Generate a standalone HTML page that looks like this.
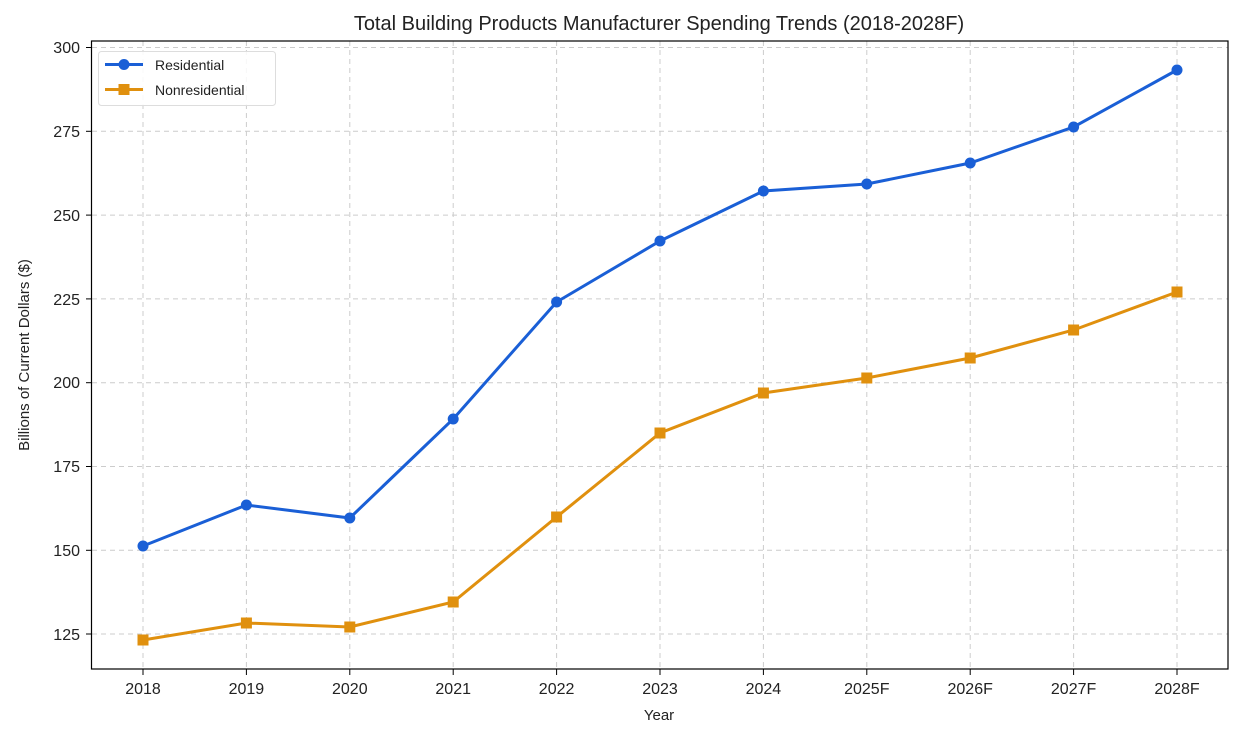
<!DOCTYPE html>
<html><head><meta charset="utf-8"><style>
body{margin:0;background:#fff;}
svg text{font-family:"Liberation Sans",sans-serif;fill:#222;}
</style></head><body>
<svg width="1246" height="727" xmlns="http://www.w3.org/2000/svg">
<rect width="1246" height="727" fill="#fff"/>
<text x="659" y="30" font-size="20" text-anchor="middle">Total Building Products Manufacturer Spending Trends (2018-2028F)</text>
<g stroke="#ccc" stroke-width="1" stroke-dasharray="5,4">
<line x1="92" x2="1228" y1="47.5" y2="47.5"/><line x1="92" x2="1228" y1="131.3" y2="131.3"/>
<line x1="92" x2="1228" y1="215.1" y2="215.1"/><line x1="92" x2="1228" y1="298.9" y2="298.9"/>
<line x1="92" x2="1228" y1="382.7" y2="382.7"/><line x1="92" x2="1228" y1="466.5" y2="466.5"/>
<line x1="92" x2="1228" y1="550.3" y2="550.3"/><line x1="92" x2="1228" y1="634" y2="634"/>
<line x1="143" x2="143" y1="41" y2="669"/><line x1="246.4" x2="246.4" y1="41" y2="669"/>
<line x1="349.8" x2="349.8" y1="41" y2="669"/><line x1="453.2" x2="453.2" y1="41" y2="669"/>
<line x1="556.6" x2="556.6" y1="41" y2="669"/><line x1="660" x2="660" y1="41" y2="669"/>
<line x1="763.4" x2="763.4" y1="41" y2="669"/><line x1="866.8" x2="866.8" y1="41" y2="669"/>
<line x1="970.2" x2="970.2" y1="41" y2="669"/><line x1="1073.6" x2="1073.6" y1="41" y2="669"/>
<line x1="1177" x2="1177" y1="41" y2="669"/>
</g>
<rect x="91.5" y="41" width="1136.5" height="628" fill="none" stroke="#000" stroke-width="1.2"/>
<g stroke="#000" stroke-width="1">
<line x1="86" x2="91.5" y1="47.5" y2="47.5"/><line x1="86" x2="91.5" y1="131.3" y2="131.3"/>
<line x1="86" x2="91.5" y1="215.1" y2="215.1"/><line x1="86" x2="91.5" y1="298.9" y2="298.9"/>
<line x1="86" x2="91.5" y1="382.7" y2="382.7"/><line x1="86" x2="91.5" y1="466.5" y2="466.5"/>
<line x1="86" x2="91.5" y1="550.3" y2="550.3"/><line x1="86" x2="91.5" y1="634" y2="634"/>
<line x1="143" x2="143" y1="669" y2="675"/><line x1="246.4" x2="246.4" y1="669" y2="675"/>
<line x1="349.8" x2="349.8" y1="669" y2="675"/><line x1="453.2" x2="453.2" y1="669" y2="675"/>
<line x1="556.6" x2="556.6" y1="669" y2="675"/><line x1="660" x2="660" y1="669" y2="675"/>
<line x1="763.4" x2="763.4" y1="669" y2="675"/><line x1="866.8" x2="866.8" y1="669" y2="675"/>
<line x1="970.2" x2="970.2" y1="669" y2="675"/><line x1="1073.6" x2="1073.6" y1="669" y2="675"/>
<line x1="1177" x2="1177" y1="669" y2="675"/>
</g>
<g font-size="16" text-anchor="end">
<text x="80" y="53">300</text><text x="80" y="137">275</text><text x="80" y="221">250</text>
<text x="80" y="305">225</text><text x="80" y="388">200</text><text x="80" y="472">175</text>
<text x="80" y="556">150</text><text x="80" y="640">125</text>
</g>
<g font-size="16" text-anchor="middle">
<text x="143" y="694">2018</text><text x="246.4" y="694">2019</text><text x="349.8" y="694">2020</text>
<text x="453.2" y="694">2021</text><text x="556.6" y="694">2022</text><text x="660" y="694">2023</text>
<text x="763.4" y="694">2024</text><text x="866.8" y="694">2025F</text><text x="970.2" y="694">2026F</text>
<text x="1073.6" y="694">2027F</text><text x="1177" y="694">2028F</text>
</g>
<text x="659" y="720" font-size="15" text-anchor="middle">Year</text>
<text transform="translate(29,355) rotate(-90)" font-size="15" text-anchor="middle">Billions of Current Dollars ($)</text>
<polyline fill="none" stroke="#1a5fd6" stroke-width="3" points="143,546 246.4,505 349.8,518 453.2,419 556.6,302 660,241 763.4,191 866.8,184 970.2,163 1073.6,127 1177,70"/>
<g fill="#1a5fd6">
<circle cx="143" cy="546" r="5.5"/><circle cx="246.4" cy="505" r="5.5"/><circle cx="349.8" cy="518" r="5.5"/>
<circle cx="453.2" cy="419" r="5.5"/><circle cx="556.6" cy="302" r="5.5"/><circle cx="660" cy="241" r="5.5"/>
<circle cx="763.4" cy="191" r="5.5"/><circle cx="866.8" cy="184" r="5.5"/><circle cx="970.2" cy="163" r="5.5"/>
<circle cx="1073.6" cy="127" r="5.5"/><circle cx="1177" cy="70" r="5.5"/>
</g>
<polyline fill="none" stroke="#e0900e" stroke-width="3" points="143,640 246.4,623 349.8,627 453.2,602 556.6,517 660,433 763.4,393 866.8,378 970.2,358 1073.6,330 1177,292"/>
<g fill="#e0900e">
<rect x="137.5" y="634.5" width="11" height="11"/><rect x="240.9" y="617.5" width="11" height="11"/>
<rect x="344.3" y="621.5" width="11" height="11"/><rect x="447.7" y="596.5" width="11" height="11"/>
<rect x="551.1" y="511.5" width="11" height="11"/><rect x="654.5" y="427.5" width="11" height="11"/>
<rect x="757.9" y="387.5" width="11" height="11"/><rect x="861.3" y="372.5" width="11" height="11"/>
<rect x="964.7" y="352.5" width="11" height="11"/><rect x="1068.1" y="324.5" width="11" height="11"/>
<rect x="1171.5" y="286.5" width="11" height="11"/>
</g>
<rect x="98.5" y="51.5" width="177" height="54" rx="3" fill="#fff" fill-opacity="0.85" stroke="#ddd"/>
<line x1="105" x2="143" y1="64.5" y2="64.5" stroke="#1a5fd6" stroke-width="3"/>
<circle cx="124" cy="64.5" r="5.5" fill="#1a5fd6"/>
<line x1="105" x2="143" y1="89.5" y2="89.5" stroke="#e0900e" stroke-width="3"/>
<rect x="118.5" y="84" width="11" height="11" fill="#e0900e"/>
<text x="155" y="70" font-size="14">Residential</text>
<text x="155" y="95" font-size="14">Nonresidential</text>
</svg>
</body></html>
